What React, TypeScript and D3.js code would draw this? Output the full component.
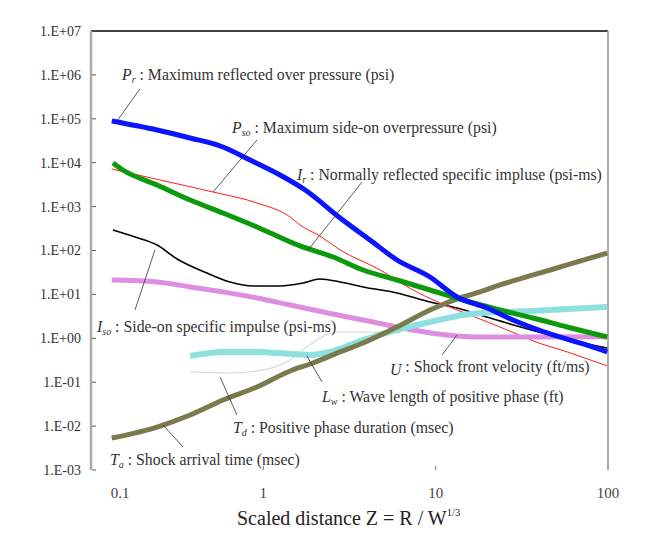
import React from 'react';
import * as d3 from 'd3';

// ---------- data ----------
// Pr : Maximum reflected overpressure (psi)
const Z_PR = [0.132, 0.242, 0.376, 0.583, 0.838, 1.25, 1.75, 2.79, 4.16, 5.97, 9.27, 13.3, 19.9, 28.1, 48.0, 75.7, 99];
const V_PR = [89100, 55600, 36600, 22800, 11500, 5250, 2390, 550, 173, 60.8, 24.9, 8.73, 4.9, 2.61, 1.19, 0.7, 0.49];
// Pso : Maximum side-on overpressure (psi)
const Z_PSO = [0.132, 0.251, 0.511, 0.918, 1.43, 1.63, 2.13, 2.79, 4.76, 7.39, 10.6, 15.8, 26.0, 36.8, 57.9, 99];
const V_PSO = [7180, 4040, 2150, 1210, 580, 381, 214, 103, 36.0, 12.6, 6.37, 3.4, 1.55, 0.87, 0.49, 0.234];
// Ir : Normally reflected specific impulse (psi-ms)
const Z_IR = [0.134, 0.153, 0.242, 0.376, 0.583, 0.918, 1.63, 2.54, 3.79, 5.97, 9.27, 14.4, 23.6, 36.8, 57.9, 99];
const V_IR = [9840, 6820, 3100, 1410, 714, 343, 127, 71.1, 36.0, 21.3, 12.6, 7.45, 4.42, 2.9, 1.81, 1.07];
// Iso : Side-on specific impulse (psi-ms)
const Z_ISO = [0.134, 0.18, 0.242, 0.316, 0.471, 0.641, 0.871, 1.25, 1.7, 2.13, 2.79, 3.79, 5.97, 9.27, 13.3, 18.1, 27.0, 46.1, 71.6, 99];
const V_ISO = [293, 203, 133, 64.0, 30.7, 19.2, 15.5, 15.5, 18.2, 22.4, 19.2, 14.8, 10.8, 6.71, 4.9, 3.4, 2.12, 1.19, 0.78, 0.6];
// U : Shock front velocity (ft/ms)
const Z_U = [0.132, 0.242, 0.376, 0.583, 0.918, 1.43, 2.22, 3.79, 5.97, 7.39, 11.6, 18.1, 36.8, 99];
const V_U = [21.3, 19.2, 14.8, 11.4, 8.28, 5.74, 3.97, 2.61, 1.81, 1.55, 1.19, 1.07, 1.07, 1.08];
// Lw : Wave length of positive phase (ft)
const Z_LW = [0.376, 0.583, 0.918, 1.43, 1.87, 2.44, 3.79, 5.97, 9.27, 14.4, 23.6, 36.8, 57.9, 99];
const V_LW = [0.395, 0.49, 0.49, 0.44, 0.417, 0.49, 0.914, 1.55, 2.35, 3.4, 3.97, 4.19, 4.65, 5.16];
// Td : Positive phase duration (msec)
const Z_TD = [0.376, 0.641, 0.995, 1.43, 1.79, 2.13, 2.79, 4.0, 6.21];
const V_TD = [0.171, 0.162, 0.19, 0.321, 0.634, 1.02, 1.39, 1.39, 1.32];
// Ta : Shock arrival time (msec)
const Z_TA = [0.132, 0.242, 0.376, 0.583, 0.918, 1.43, 1.94, 2.79, 3.79, 5.97, 9.27, 14.4, 18.1, 23.6, 36.8, 57.9, 99];
const V_TA = [0.00536, 0.00953, 0.0179, 0.0394, 0.0778, 0.18, 0.274, 0.49, 0.78, 1.81, 4.42, 8.73, 11.4, 16.4, 27.7, 46.8, 87.7];

const X_TICKS = [0.1, 1, 10, 100];
const X_TICK_LABELS = ['0.1', '1', '10', '100'];
const Y_EXPONENTS = [-3, -2, -1, 0, 1, 2, 3, 4, 5, 6, 7];

// annotation leaders (data coordinates: [z0, v0, z1, v1])
const LEADERS = [
  [0.192, 477000, 0.143, 94000],
  [0.918, 32900, 0.511, 2150],
  [3.74, 3630, 1.82, 103],
  [0.235, 103, 0.18, 4.42],
  [13.3, 1.19, 10.9, 0.417],
  [1.79, 0.395, 2.19, 0.101],
  [0.561, 0.131, 0.703, 0.0179],
  [0.262, 0.0106, 0.342, 0.00334],
];

const SERIES = [
  { key: 'Td', z: Z_TD, v: V_TD, color: '#d8d8d8', w: 1.2 },
  { key: 'Iso', z: Z_ISO, v: V_ISO, color: '#000000', w: 1.6 },
  { key: 'Pso', z: Z_PSO, v: V_PSO, color: '#ff1a1a', w: 1 },
  { key: 'U', z: Z_U, v: V_U, color: '#dd8ee0', w: 5 },
  { key: 'Lw', z: Z_LW, v: V_LW, color: '#8ee0de', w: 6 },
  { key: 'Ta', z: Z_TA, v: V_TA, color: '#7a7a4c', w: 5 },
  { key: 'Ir', z: Z_IR, v: V_IR, color: '#0c9a0c', w: 5 },
  { key: 'Pr', z: Z_PR, v: V_PR, color: '#0a14ff', w: 5 },
];

const FONT = "'Liberation Serif', Tinos, 'Times New Roman', Times, 'DejaVu Serif', serif";

function Label({ x, y, sym, sub, text }: { x: number; y: number; sym: string; sub: string; text: string }) {
  return (
    <text x={x} y={y} style={{ fontFamily: FONT }} fontSize={15.8} fill="#333">
      <tspan fontStyle="italic">{sym}</tspan>
      <tspan fontSize={10} fontStyle="italic" dy={3}>{sub}</tspan>
      <tspan dy={-3}>{' : ' + text}</tspan>
    </text>
  );
}

export default function App() {
  const x = d3.scaleLog().domain([0.1, 100]).range([91, 608]);
  const y = d3.scaleLog().domain([1e-3, 1e7]).range([470, 31]);
  const line = d3
    .line<[number, number]>()
    .x((d) => x(d[0]))
    .y((d) => y(d[1]))
    .curve(d3.curveMonotoneX);

  const fmt = (e: number) => `1.E${e < 0 ? '-' : '+'}${String(Math.abs(e)).padStart(2, '0')}`;

  return (
    <svg width={652} height={551} style={{ position: 'absolute', left: 0, top: 0, background: '#fff' }}>
      <rect x={0} y={0} width={652} height={551} fill="#fff" />
      {/* frame */}
      <line x1={91} y1={31} x2={608} y2={31} stroke="#000" strokeWidth={1.5} />
      <line x1={91} y1={31} x2={91} y2={470} stroke="#aaa" strokeWidth={2.5} />
      <line x1={608} y1={31} x2={608} y2={470} stroke="#aaa" strokeWidth={2} />

      {/* y ticks */}
      {Y_EXPONENTS.map((e) => (
        <g key={e}>
          <line x1={92} x2={96} y1={y(Math.pow(10, e))} y2={y(Math.pow(10, e))} stroke="#555" strokeWidth={1} />
          <text x={81} y={y(Math.pow(10, e))} dy="0.35em" textAnchor="end" style={{ fontFamily: FONT }} fontSize={14} fill="#333">
            {fmt(e)}
          </text>
        </g>
      ))}
      {/* x ticks */}
      {X_TICKS.map((t, i) => (
        <g key={t}>
          {i > 0 && i < X_TICKS.length - 1 && (
            <line x1={x(t)} x2={x(t)} y1={466} y2={470} stroke="#777" strokeWidth={1} />
          )}
          <text
            x={i === 0 ? x(t) + 29 : x(t)}
            y={498}
            textAnchor="middle"
            style={{ fontFamily: FONT }}
            fontSize={15}
            fill="#444"
          >
            {X_TICK_LABELS[i]}
          </text>
        </g>
      ))}

      {/* series */}
      {SERIES.map((s) => (
        <path
          key={s.key}
          d={line(s.z.map((z, i) => [z, s.v[i]] as [number, number])) || ''}
          fill="none"
          stroke={s.color}
          strokeWidth={s.w}
          strokeLinejoin="round"
        />
      ))}

      {/* leaders */}
      {LEADERS.map((l, i) => (
        <line key={i} x1={x(l[0])} y1={y(l[1])} x2={x(l[2])} y2={y(l[3])} stroke="#333" strokeWidth={0.8} />
      ))}

      {/* labels */}
      <Label x={122} y={80} sym="P" sub="r" text="Maximum reflected over pressure (psi)" />
      <Label x={232} y={133} sym="P" sub="so" text="Maximum side-on overpressure (psi)" />
      <Label x={297} y={180} sym="I" sub="r" text="Normally reflected specific impluse (psi-ms)" />
      <Label x={97} y={332} sym="I" sub="so" text="Side-on specific impulse (psi-ms)" />
      <Label x={390} y={375} sym="U" sub="" text="Shock front velocity (ft/ms)" />
      <Label x={322} y={402} sym="L" sub="w" text="Wave length of positive phase (ft)" />
      <Label x={233} y={433} sym="T" sub="d" text="Positive phase duration (msec)" />
      <Label x={110} y={465} sym="T" sub="a" text="Shock arrival time (msec)" />

      {/* axis title */}
      <text x={237} y={525} style={{ fontFamily: FONT }} fontSize={20} fill="#222">
        Scaled distance Z = R / W
        <tspan fontSize={10.5} dy={-9}>1/3</tspan>
      </text>
    </svg>
  );
}
